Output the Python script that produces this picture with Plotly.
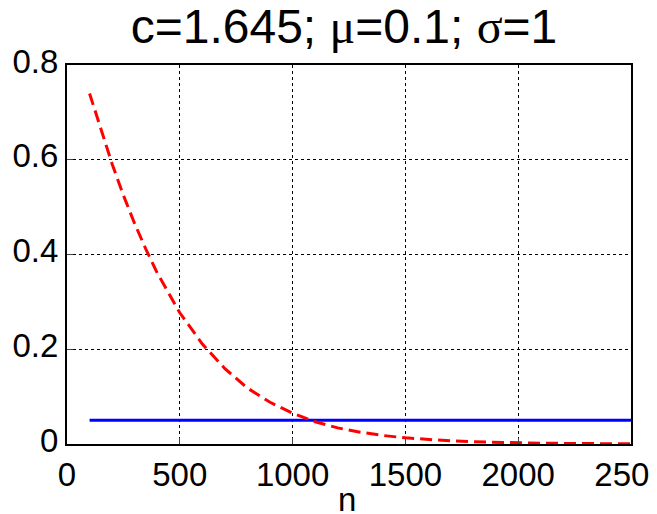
import plotly.graph_objects as go

n_values = [100, 150, 200, 250, 300, 350, 400, 500, 600, 700, 800, 900, 1000, 1100, 1200,
            1300, 1400, 1500, 1600, 1700, 1800, 1900, 2000, 2100, 2200, 2300, 2400, 2500]
red_values = [0.74, 0.663, 0.591, 0.525, 0.465, 0.411, 0.361, 0.277, 0.211, 0.159, 0.118,
              0.088, 0.065, 0.047, 0.034, 0.025, 0.018, 0.013, 0.0093, 0.0066, 0.0047,
              0.0033, 0.0023, 0.0017, 0.0012, 0.0008, 0.0006, 0.0004]
blue_n = [100, 2500]
blue_values = [0.05, 0.05]

x_ticks = [0, 500, 1000, 1500, 2000, 2500]
y_ticks = [0, 0.2, 0.4, 0.6, 0.8]
y_tick_text = ["0", "0.2", "0.4", "0.6", "0.8"]

right_label_y = [0.624, 0.4726, 0.31, 0.162]
right_label_text = ["0.08", "0.06", "0.04", "0.02"]

font_family = "Liberation Sans, Arial, sans-serif"
serif = "Liberation Serif, Times New Roman, serif"

W, H = 649, 506
L, R, T, B = 59, 26, 57, 70
plot_w = W - L - R
plot_h = H - T - B

fig = go.Figure()
fig.add_trace(go.Scatter(x=blue_n, y=blue_values, mode="lines",
                         line=dict(color="#0000ff", width=3), showlegend=False))
fig.add_trace(go.Scatter(x=n_values, y=red_values, mode="lines",
                         line=dict(color="#ff0000", width=3, dash="12px,6px"),
                         showlegend=False))

for yv, t in zip(right_label_y, right_label_text):
    fig.add_annotation(x=(639 - L) / plot_w, xref="paper", y=yv, yref="y", text=t,
                       showarrow=False, xanchor="left", yanchor="middle",
                       font=dict(size=33, color="black", family=font_family))

fig.add_annotation(x=(339 - L) / plot_w, xref="paper", y=(H - 491 - B) / plot_h, yref="paper",
                   text="n", showarrow=False, xanchor="center", yanchor="middle",
                   font=dict(size=33, color="black", family=font_family))

title_text = ("c=1.645; <span style='font-family:" + serif + "'>\u03bc</span>=0.1; "
              "<span style='font-family:" + serif + "'>\u03c3</span>=1")

fig.update_layout(
    width=W, height=H,
    margin=dict(l=L, r=R, t=T, b=B),
    paper_bgcolor="white", plot_bgcolor="white",
    font=dict(family=font_family, color="black", size=33),
    title=dict(text=title_text, x=336 / W, xanchor="center",
               y=1 - 18 / H, yanchor="middle",
               font=dict(size=48, family=font_family, color="black")),
    xaxis=dict(range=[0, 2500], tickvals=x_ticks, ticks="inside", ticklen=6,
               showline=True, linecolor="black", linewidth=2, mirror=True,
               showgrid=True, gridcolor="black", gridwidth=1, griddash="3px,3px",
               zeroline=False, tickfont=dict(size=33), automargin=False,
               ticklabeloverflow="allow"),
    yaxis=dict(range=[0, 0.8], tickvals=y_ticks, ticktext=y_tick_text, ticks="inside",
               ticklen=6, showline=True, linecolor="black", linewidth=2, mirror=True,
               showgrid=True, gridcolor="black", gridwidth=1, griddash="3px,3px",
               zeroline=False, tickfont=dict(size=33), automargin=False,
               ticklabeloverflow="allow", ticklabelshift=-4),
)

fig.write_html("out.html")
